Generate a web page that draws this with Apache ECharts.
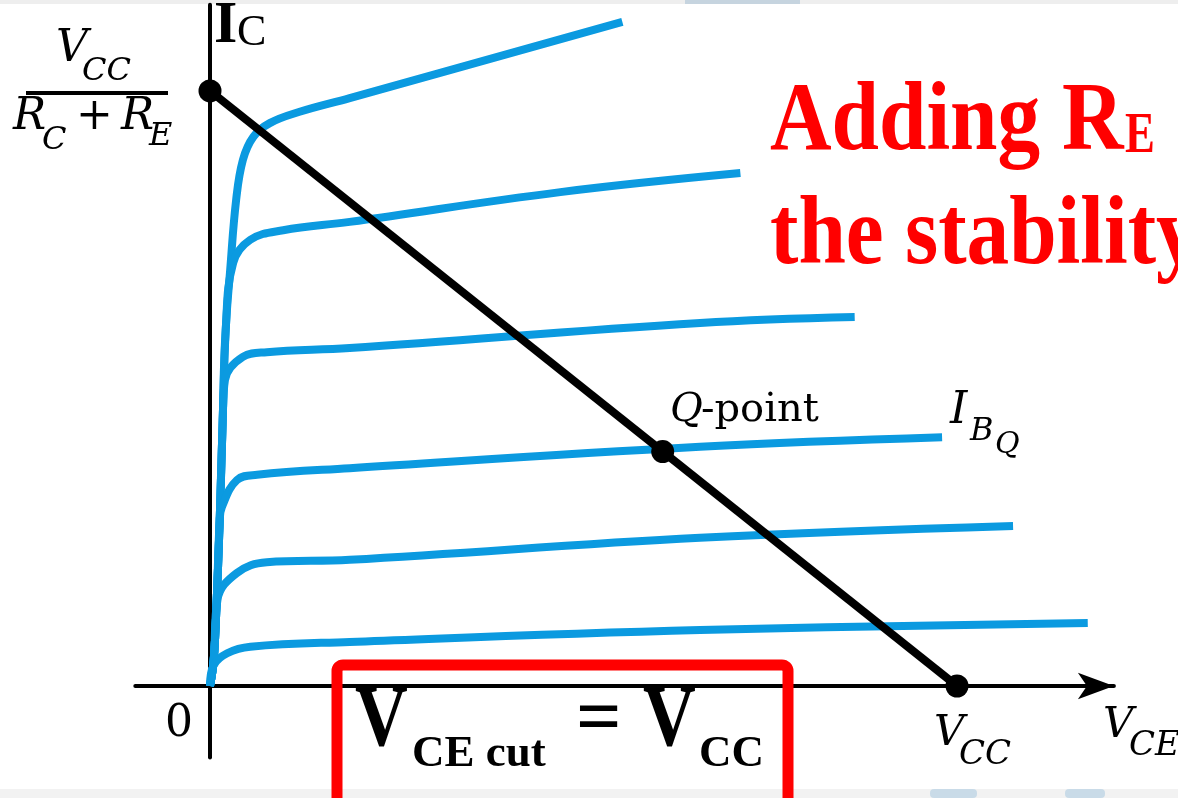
<!DOCTYPE html>
<html>
<head>
<meta charset="utf-8">
<script src="https://cdn.jsdelivr.net/npm/echarts@6/dist/echarts.min.js"></script>
<style>
  html, body { margin: 0; padding: 0; background: #ffffff; }
  #chart { width: 1178px; height: 798px; }
</style>
</head>
<body>
<div id="chart"></div>
<script>
// ---- Data (VCE in units of VCC/10, IC in units of IC(sat)/10) ----
const curveIB1 = [[0,0],[0.05,0.44],[0.09,1.45],[0.13,2.79],[0.17,4.47],[0.21,5.98],[0.27,6.99],[0.35,8.17],[0.44,8.84],[0.58,9.23],[0.80,9.46],[1.20,9.65],[1.87,9.88],[5.52,11.16]];
const curveIB2 = [[0,0],[0.05,0.44],[0.09,1.45],[0.13,2.79],[0.17,4.47],[0.21,5.98],[0.31,7.11],[0.54,7.50],[0.98,7.66],[1.87,7.80],[4.69,8.30],[7.10,8.62]];
const curveIB3 = [[0,0],[0.05,0.44],[0.09,1.45],[0.13,2.79],[0.17,4.47],[0.20,5.14],[0.44,5.53],[0.76,5.61],[1.87,5.68],[6.56,6.10],[8.63,6.20]];
const curveIB4 = [[0,0],[0.05,0.44],[0.09,1.45],[0.13,2.79],[0.16,3.01],[0.36,3.46],[0.63,3.55],[1.87,3.66],[6.56,4.02],[9.80,4.18]];
const curveIB5 = [[0,0],[0.05,0.44],[0.10,1.45],[0.36,1.90],[0.76,2.08],[1.87,2.12],[6.56,2.49],[10.75,2.69]];
const curveIB6 = [[0,0],[0.05,0.35],[0.23,0.55],[0.54,0.66],[1.87,0.74],[6.56,0.94],[11.75,1.06]];
const curves = [curveIB1, curveIB2, curveIB3, curveIB4, curveIB5, curveIB6];

const vcc = 10;          // VCE cut-off
const icSat = 10;        // VCC / (RC + RE)
const loadLine = [[0, icSat], [vcc, 0]];
const qPoint = [6.06, 3.94];
const keyPoints = [[0, icSat], qPoint, [vcc, 0]];

// ---- Styles ----
const BLUE = '#0b9ae0';
const SERIF = 'DejaVu Serif';
const TIMES = 'Liberation Serif';

function txt(left, baseline, str, size, o) {
  o = o || {};
  return {
    type: 'text', x: left, y: baseline, scaleX: o.sx || 1, scaleY: o.sy || 1, z: 50,
    style: {
      text: str, x: 0, y: -0.34 * size,
      fontSize: size, fontFamily: o.family || SERIF,
      fontStyle: o.italic ? 'italic' : 'normal',
      fontWeight: o.bold ? 'bold' : 'normal',
      fill: o.color || '#000', align: 'left', verticalAlign: 'middle'
    }
  };
}

const chart = echarts.init(document.getElementById('chart'), null, { renderer: 'canvas' });

const series = curves.map((c, i) => ({
  type: 'line', name: 'IB' + (i + 1), data: c, smooth: 0.4,
  showSymbol: false, symbol: 'none', z: 2,
  lineStyle: { color: BLUE, width: 8, cap: 'butt' }, silent: true
}));
series.push({
  type: 'line', name: 'load line', data: loadLine, symbol: 'none', z: 5,
  lineStyle: { color: '#000', width: 8 }, silent: true
});
series.push({
  type: 'scatter', name: 'points', data: keyPoints, symbolSize: 23, z: 6,
  itemStyle: { color: '#000', opacity: 1 }, silent: true
});

const graphics = [
  // slide background strips
  { type: 'rect', shape: { x: 0, y: 0, width: 1178, height: 4 }, style: { fill: '#eeeeee' }, z: -5 },
  { type: 'rect', shape: { x: 685, y: 0, width: 115, height: 4 }, style: { fill: '#c6d4df' }, z: -4 },
  { type: 'rect', shape: { x: 0, y: 789, width: 1178, height: 9 }, style: { fill: '#f2f2f2' }, z: -5 },
  { type: 'rect', shape: { x: 930, y: 789, width: 47, height: 9, r: 4 }, style: { fill: '#c9dbe8' }, z: -4 },
  { type: 'rect', shape: { x: 1065, y: 789, width: 40, height: 9, r: 4 }, style: { fill: '#c9dbe8' }, z: -4 },

  // I_C axis title
  txt(214, 47, 'I', 60, { family: TIMES, bold: true }),
  txt(237, 48, 'C', 44, { family: TIMES }),

  // VCC / (RC + RE)
  txt(56, 65, 'V', 44, { italic: true }),
  txt(82, 83, 'CC', 32, { italic: true }),
  { type: 'line', shape: { x1: 26, y1: 93, x2: 168, y2: 93 }, style: { stroke: '#000', lineWidth: 4 }, z: 50 },
  txt(13, 133, 'R', 44, { italic: true }),
  txt(42, 152, 'C', 32, { italic: true }),
  txt(76, 133, '+', 44, {}),
  txt(121, 133, 'R', 44, { italic: true }),
  txt(149, 148, 'E', 32, { italic: true }),

  // origin
  txt(165, 740, '0', 44, {}),

  // VCC at x axis
  txt(934, 748, 'V', 42, { italic: true }),
  txt(959, 767, 'CC', 34, { italic: true }),
  // VCE axis title
  txt(1103, 740, 'V', 42, { italic: true }),
  txt(1129, 758, 'CE', 34, { italic: true }),

  // Q-point
  txt(670, 424, 'Q', 40, { italic: true }),
  txt(701, 424, '-point', 40, {}),
  // I_BQ
  txt(950, 427, 'I', 44, { italic: true }),
  txt(970, 443, 'B', 32, { italic: true }),
  txt(995, 455, 'Q', 30, { italic: true }),

  // red statement
  txt(770, 157, 'Adding', 98, { family: TIMES, bold: true, color: '#ff0000', sx: 0.87 }),
  txt(1062, 157, 'R', 98, { family: TIMES, bold: true, color: '#ff0000', sx: 0.87 }),
  txt(1125, 157, 'E', 56, { family: TIMES, bold: true, color: '#ff0000', sx: 0.8 }),
  txt(770, 271, 'the stability', 98, { family: TIMES, bold: true, color: '#ff0000', sx: 0.87 }),

  // boxed equation
  { type: 'rect', shape: { x: 337, y: 665, width: 451, height: 160, r: 6 }, style: { fill: 'none', stroke: '#ff0000', lineWidth: 11 }, z: 40 },
  txt(355, 752, 'V', 86, { family: TIMES, bold: true, sx: 0.85 }),
  txt(412, 770, 'CE cut', 45, { family: TIMES, bold: true }),
  txt(576, 750, '=', 80, { family: TIMES, bold: true }),
  txt(643, 752, 'V', 86, { family: TIMES, bold: true, sx: 0.85 }),
  txt(699, 770, 'CC', 45, { family: TIMES, bold: true })
];

chart.setOption({
  animation: false,
  backgroundColor: '#ffffff',
  grid: { left: 135.3, top: 4.7, width: 978.6, height: 752.7, containLabel: false },
  xAxis: {
    type: 'value', min: -1, max: 12.1,
    axisLine: { show: true, onZero: true, symbol: ['none', 'arrow'], symbolSize: [20, 36],
      lineStyle: { color: '#000', width: 4 } },
    axisTick: { show: false }, axisLabel: { show: false }, splitLine: { show: false }
  },
  yAxis: {
    type: 'value', min: -1.2, max: 11.45,
    axisLine: { show: true, onZero: true, lineStyle: { color: '#000', width: 4 } },
    axisTick: { show: false }, axisLabel: { show: false }, splitLine: { show: false }
  },
  series: series,
  graphic: { elements: graphics }
});
</script>
</body>
</html>
